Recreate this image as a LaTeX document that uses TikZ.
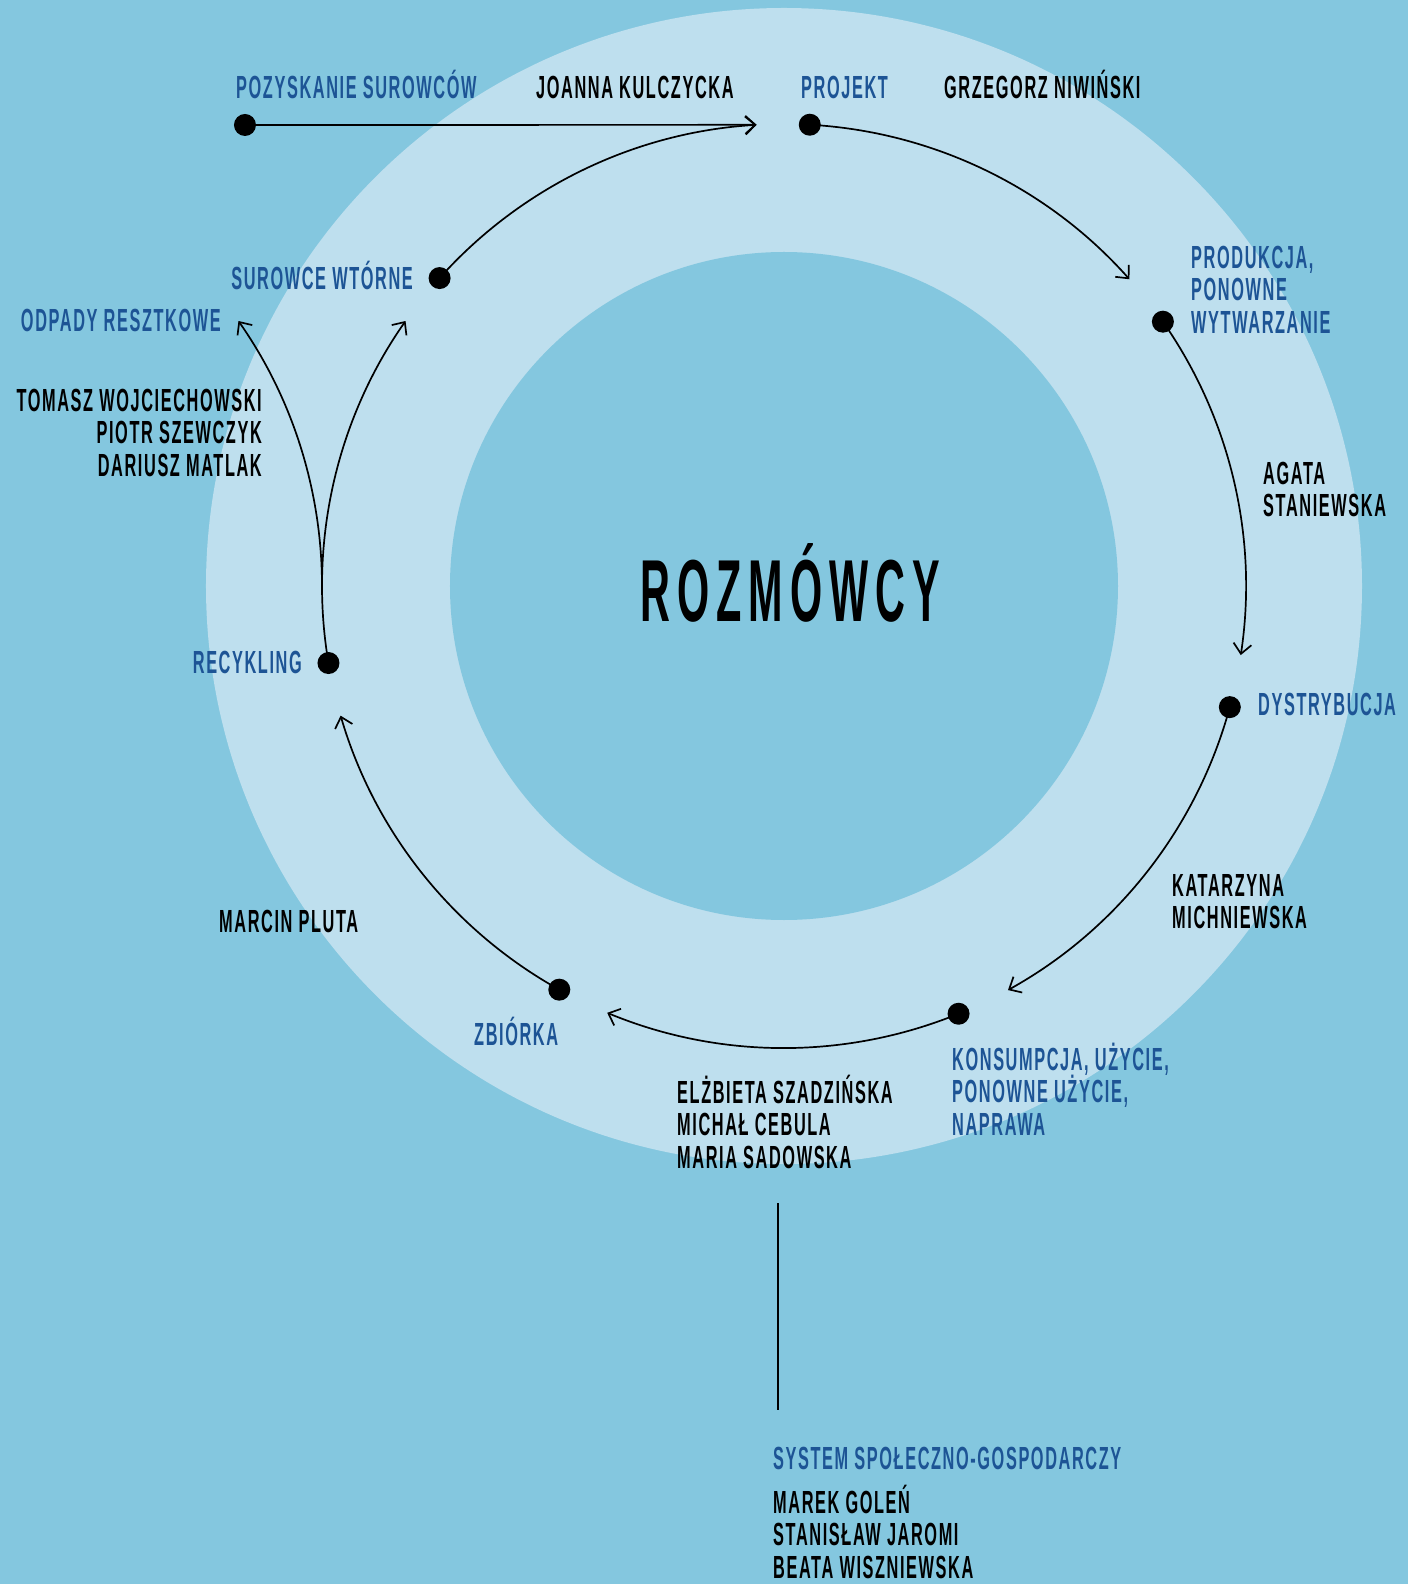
\documentclass[tikz,border=0pt]{standalone}
\usepackage{fontspec}
\usepackage{tikz}
\usetikzlibrary{arrows.meta}

\newfontfamily\labfont[FakeStretch=0.51,LetterSpace=5]{Liberation Sans}
\newfontfamily\titlefont[FakeStretch=0.47,LetterSpace=8]{Liberation Sans}

\definecolor{bgblue}{HTML}{84C7DF}
\definecolor{ringblue}{HTML}{BEDFEE}
\definecolor{stageblue}{HTML}{1D5495}

\tikzset{
	dot/.style={circle,fill=black,inner sep=0pt,minimum size=22pt},
	flow/.style={line width=1.7pt,-{Straight Barb[length=10pt,width=18pt]}},
	lab/.style={inner sep=0pt,font=\labfont\bfseries\fontsize{32}{32.5}\selectfont},
	stage/.style={lab,text=stageblue},
	person/.style={lab,text=black},
}
\newcommand{\fl}{\rule{0pt}{32pt}}

\begin{document}
\begin{tikzpicture}[x=1pt,y=1pt]
	\useasboundingbox (-784,-998) rectangle (624,586);
	\fill[bgblue] (-784,-998) rectangle (624,586);
	\fill[ringblue] (0,0) circle [radius=578];
	\fill[bgblue] (0,0) circle [radius=334];
	
	\node[dot] (pozysk) at (-539,461) {};
	\node[dot] (projekt) at (86.8:462) {};
	\node[dot] (produk) at (34.9:462) {};
	\node[dot] (dystr) at (-15.2:462) {};
	\node[dot] (konsum) at (-67.8:462) {};
	\node[dot] (zbiorka) at (-119.1:462) {};
	\node[dot] (recykl) at (189.6:462) {};
	\node[dot] (surowce) at (138.2:462) {};
	\coordinate (tipProj) at (93.4:462);
	\coordinate (fork) at (180:462);
	
	\draw[flow] (pozysk.center) -- (tipProj);
	\draw[flow] (surowce.center) arc [start angle=138.2, end angle=93.4, radius=462];
	\draw[flow] (projekt.center) arc [start angle=86.8, end angle=41.6, radius=462];
	\draw[flow] (produk.center) arc [start angle=34.9, end angle=-8.6, radius=462];
	\draw[flow] (dystr.center) arc [start angle=-15.2, end angle=-61, radius=462];
	\draw[flow] (konsum.center) arc [start angle=-67.8, end angle=-112.5, radius=462];
	\draw[flow] (zbiorka.center) arc [start angle=-119.1, end angle=-163.7, radius=462];
	\draw[flow] (recykl.center) arc [start angle=189.6, end angle=145, radius=462];
	\draw[flow] (fork) arc [start angle=0, end angle=35, radius=462];
	
	\node[stage,anchor=base west] (lpozysk) at (-548,487) {POZYSKANIE SUROWCÓW};
	\node[person,anchor=base west] (ljoanna) at (-248,487) {JOANNA KULCZYCKA};
	\node[stage,anchor=base west] (lprojekt) at (17,487) {PROJEKT};
	\node[person,anchor=base west] (lgrzeg) at (160,487) {GRZEGORZ NIWIŃSKI};
	\node[stage,anchor=north west,align=left] (lprodukcja) at (407,350) {\fl PRODUKCJA,\\PONOWNE\\WYTWARZANIE};
	\node[person,anchor=north west,align=left] (lagata) at (479,134) {\fl AGATA\\STANIEWSKA};
	\node[stage,anchor=base west] (ldystr) at (474,-129) {DYSTRYBUCJA};
	\node[person,anchor=north west,align=left] (lkatarz) at (388,-278) {\fl KATARZYNA\\MICHNIEWSKA};
	\node[stage,anchor=north west,align=left] (lkonsum) at (168,-452) {\fl KONSUMPCJA, UŻYCIE,\\PONOWNE UŻYCIE,\\NAPRAWA};
	\node[person,anchor=north west,align=left] (lelzb) at (-107,-485) {\fl ELŻBIETA SZADZIŃSKA\\MICHAŁ CEBULA\\MARIA SADOWSKA};
	\node[stage,anchor=base west] (lzbiorka) at (-310,-459) {ZBIÓRKA};
	\node[person,anchor=base west] (lmarcin) at (-565,-346) {MARCIN PLUTA};
	\node[stage,anchor=base east] (lrecykl) at (-482,-88) {RECYKLING};
	\node[person,anchor=north east,align=right] (ltomasz) at (-522,207) {\fl TOMASZ WOJCIECHOWSKI\\PIOTR SZEWCZYK\\DARIUSZ MATLAK};
	\node[stage,anchor=base east] (lodpady) at (-563,254) {ODPADY RESZTKOWE};
	\node[stage,anchor=base east] (lsurowce) at (-371,296) {SUROWCE WTÓRNE};
	
	\node[anchor=base,inner sep=0pt,font=\titlefont\bfseries\fontsize{88}{90}\selectfont] (rozm) at (6,-36) {ROZMÓWCY};
	
	\coordinate (sysTop) at (-6,-617);
	\coordinate (sysBot) at (-6,-824);
	\draw[line width=1.7pt] (sysTop) -- (sysBot);
	\node[stage,anchor=base west] (lsystem) at (-11,-883) {SYSTEM SPOŁECZNO-GOSPODARCZY};
	\node[person,anchor=north west,align=left] (lmarek) at (-11,-895) {\fl MAREK GOLEŃ\\STANISŁAW JAROMI\\BEATA WISZNIEWSKA};
\end{tikzpicture}
\end{document}
